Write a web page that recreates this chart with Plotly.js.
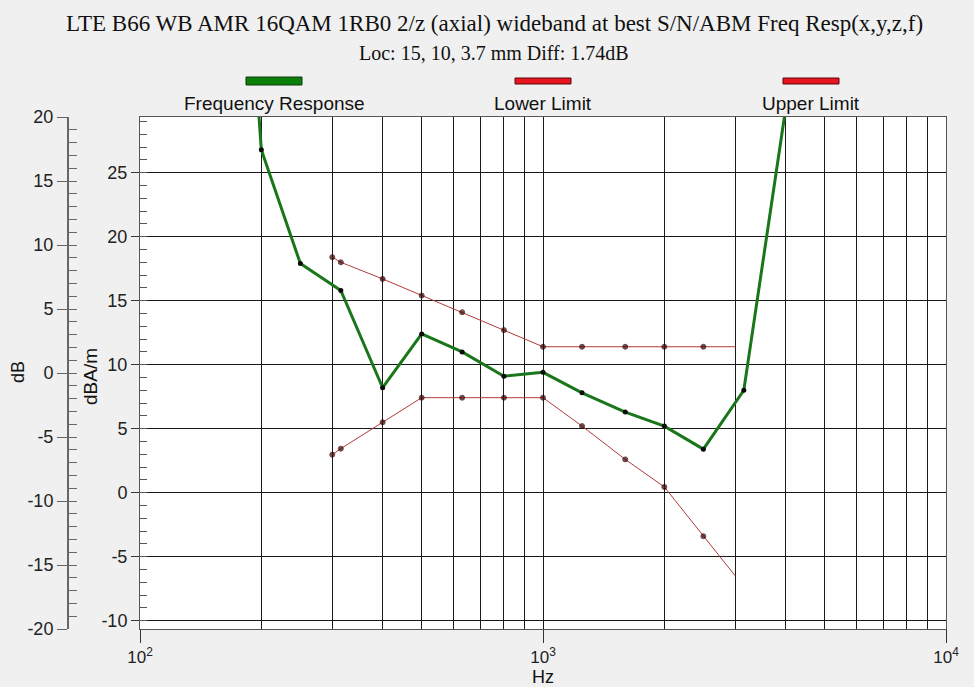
<!DOCTYPE html>
<html>
<head>
<meta charset="utf-8">
<script src="https://cdn.plot.ly/plotly-3.0.1.min.js"></script>
<style>html,body{margin:0;padding:0;background:#f0f0f0;}#chart{width:974px;height:687px;}</style>
</head>
<body>
<div id="chart"></div>
<script>
// ---- data (dBA/m on inner axis, Hz on x) ----
const respFreq = [160, 200, 250, 315, 400, 500, 630, 800, 1000, 1250, 1600, 2000, 2500, 3150, 4000, 5000];
const respVals = [70, 26.8, 17.9, 15.8, 8.2, 12.4, 11.0, 9.1, 9.4, 7.8, 6.3, 5.2, 3.4, 8.0, 30.0, 50];

const lowFreq = [300, 315, 400, 500, 630, 800, 1000, 1250, 1600, 2000, 2500, 3000];
const lowVals = [2.97, 3.44, 5.5, 7.42, 7.42, 7.42, 7.42, 5.2, 2.6, 0.45, -3.4, -6.5];

const upFreq = [300, 315, 400, 500, 630, 800, 1000, 1250, 1600, 2000, 2500, 3000];
const upVals = [18.4, 18.0, 16.7, 15.4, 14.1, 12.7, 11.4, 11.4, 11.4, 11.4, 11.4, 11.4];

const xTickVals = [100, 1000, 10000];
const xTickText = ['10<sup>2</sup>', '10<sup>3</sup>', '10<sup>4</sup>'];
const innerTicks = [-10, -5, 0, 5, 10, 15, 20, 25];
const outerTicks = [-20, -15, -10, -5, 0, 5, 10, 15, 20];
const seriesNames = ['Frequency Response', 'Lower Limit', 'Upper Limit'];
const titleText = 'LTE B66 WB AMR 16QAM 1RB0 2/z (axial) wideband at best S/N/ABM Freq Resp(x,y,z,f)';
const subTitleText = 'Loc: 15, 10, 3.7 mm Diff: 1.74dB';

// ---- layout helpers ----
const W = 974, H = 687, ML = 20, MR = 28, MT = 117, MB = 58;
const PW = W - ML - MR, PH = H - MT - MB;
const px = x => (x - ML) / PW;
const py = y => (H - MB - y) / PH;

const minorX = [];
[100, 1000].forEach(d => { for (let m = 2; m <= 9; m++) minorX.push(d * m); });

const sans = 'Liberation Sans, Arial, sans-serif';
const serif = 'Liberation Serif, Times New Roman, serif';
const gridC = '#1a1a1a';
const greenC = '#1a761a';
const limC = '#b23a3a';

const lastHidden = arr => arr.map((_, i) => i === arr.length - 1 ? 0 : 5);

const traces = [
  {x: lowFreq, y: lowVals, type: 'scatter', mode: 'lines+markers', name: seriesNames[1],
   line: {color: limC, width: 1}, marker: {color: '#3a0000', size: lastHidden(lowFreq), line: {color: '#2a0000', width: 1}}, hoverinfo: 'x+y'},
  {x: upFreq, y: upVals, type: 'scatter', mode: 'lines+markers', name: seriesNames[2],
   line: {color: limC, width: 1}, marker: {color: '#3a0000', size: lastHidden(upFreq), line: {color: '#2a0000', width: 1}}, hoverinfo: 'x+y'},
  {x: respFreq, y: respVals, type: 'scatter', mode: 'lines+markers', name: seriesNames[0],
   line: {color: greenC, width: 3}, marker: {color: '#0a0a0a', size: 5}, hoverinfo: 'x+y'},
  {x: [], y: [], yaxis: 'y2', type: 'scatter', showlegend: false, hoverinfo: 'skip'},
  {x: [], y: [], yaxis: 'y3', type: 'scatter', showlegend: false, hoverinfo: 'skip'}
];

const tickFont = {family: sans, size: 18, color: '#222'};

const layout = {
  width: W, height: H,
  margin: {l: ML, r: MR, t: MT, b: MB, pad: 0},
  paper_bgcolor: '#f0f0f0',
  plot_bgcolor: '#ffffff',
  showlegend: false,
  xaxis: {
    type: 'log', range: [2, 4], domain: [px(140), 1],
    tickmode: 'array', tickvals: xTickVals, ticktext: xTickText,
    ticks: 'outside', ticklen: 13, tickcolor: '#333', tickwidth: 1,
    tickfont: {family: sans, size: 17, color: '#222'},
    showgrid: true, gridcolor: gridC, gridwidth: 1,
    minor: {tickmode: 'array', tickvals: minorX, showgrid: true, gridcolor: gridC, gridwidth: 1, ticks: ''},
    showline: true, mirror: true, linecolor: '#555', linewidth: 1,
    zeroline: false, fixedrange: true
  },
  yaxis: {
    range: [-10.65, 29.35],
    tickmode: 'array', tickvals: innerTicks, ticktext: innerTicks.map(String),
    ticks: 'outside', ticklen: 8, tickcolor: '#333',
    tickfont: tickFont,
    showgrid: true, gridcolor: gridC, gridwidth: 1,
    minor: {tickmode: 'linear', dtick: 1, tick0: 0, ticks: 'inside', ticklen: 7, tickcolor: '#555', showgrid: false},
    showline: true, mirror: true, linecolor: '#555', linewidth: 1,
    zeroline: false, fixedrange: true
  },
  yaxis2: {
    overlaying: 'y', anchor: 'free', position: px(68), side: 'left',
    range: [-20, 20],
    tickmode: 'array', tickvals: outerTicks, ticktext: outerTicks.map(String),
    ticks: 'outside', ticklen: 10, tickcolor: '#666', tickwidth: 1,
    tickfont: tickFont,
    showgrid: false, zeroline: false,
    showline: true, linecolor: '#666', linewidth: 2, fixedrange: true
  },
  yaxis3: {
    overlaying: 'y', anchor: 'free', position: px(68), side: 'left',
    range: [-20, 20], tick0: 0, dtick: 1,
    ticks: 'inside', ticklen: 8, tickcolor: '#666', tickwidth: 1,
    showticklabels: false, showgrid: false, zeroline: false, showline: false, fixedrange: true
  },
  shapes: [
    {type: 'rect', xref: 'paper', yref: 'paper', x0: px(246), x1: px(302), y0: py(85), y1: py(77),
     fillcolor: '#0a800a', line: {color: '#0b3d0b', width: 1}},
    {type: 'rect', xref: 'paper', yref: 'paper', x0: px(515), x1: px(571), y0: py(84), y1: py(78),
     fillcolor: '#e8141e', line: {color: '#5a0a0a', width: 1}},
    {type: 'rect', xref: 'paper', yref: 'paper', x0: px(783), x1: px(839), y0: py(84), y1: py(78),
     fillcolor: '#e8141e', line: {color: '#5a0a0a', width: 1}}
  ],
  annotations: [
    {text: titleText, xref: 'paper', yref: 'paper', x: px(494), y: py(23), showarrow: false,
     xanchor: 'center', yanchor: 'middle', font: {family: serif, size: 23, color: '#111'}},
    {text: subTitleText, xref: 'paper', yref: 'paper', x: px(494), y: py(53), showarrow: false,
     xanchor: 'center', yanchor: 'middle', font: {family: serif, size: 20, color: '#111'}},
    {text: seriesNames[0], xref: 'paper', yref: 'paper', x: px(274), y: py(103), showarrow: false,
     xanchor: 'center', yanchor: 'middle', font: {family: sans, size: 19, color: '#111'}},
    {text: seriesNames[1], xref: 'paper', yref: 'paper', x: px(543), y: py(103), showarrow: false,
     xanchor: 'center', yanchor: 'middle', font: {family: sans, size: 19, color: '#111'}},
    {text: seriesNames[2], xref: 'paper', yref: 'paper', x: px(811), y: py(103), showarrow: false,
     xanchor: 'center', yanchor: 'middle', font: {family: sans, size: 19, color: '#111'}},
    {text: 'dB', xref: 'paper', yref: 'paper', x: px(18), y: py(372), showarrow: false, textangle: -90,
     xanchor: 'center', yanchor: 'middle', font: {family: sans, size: 18, color: '#111'}},
    {text: 'dBA/m', xref: 'paper', yref: 'paper', x: px(90), y: py(377), showarrow: false, textangle: -90,
     xanchor: 'center', yanchor: 'middle', font: {family: sans, size: 19, color: '#111'}},
    {text: 'Hz', xref: 'paper', yref: 'paper', x: px(543), y: py(677), showarrow: false,
     xanchor: 'center', yanchor: 'middle', font: {family: sans, size: 18, color: '#111'}}
  ]
};

Plotly.newPlot('chart', traces, layout, {displayModeBar: false, staticPlot: true});
</script>
</body>
</html>
